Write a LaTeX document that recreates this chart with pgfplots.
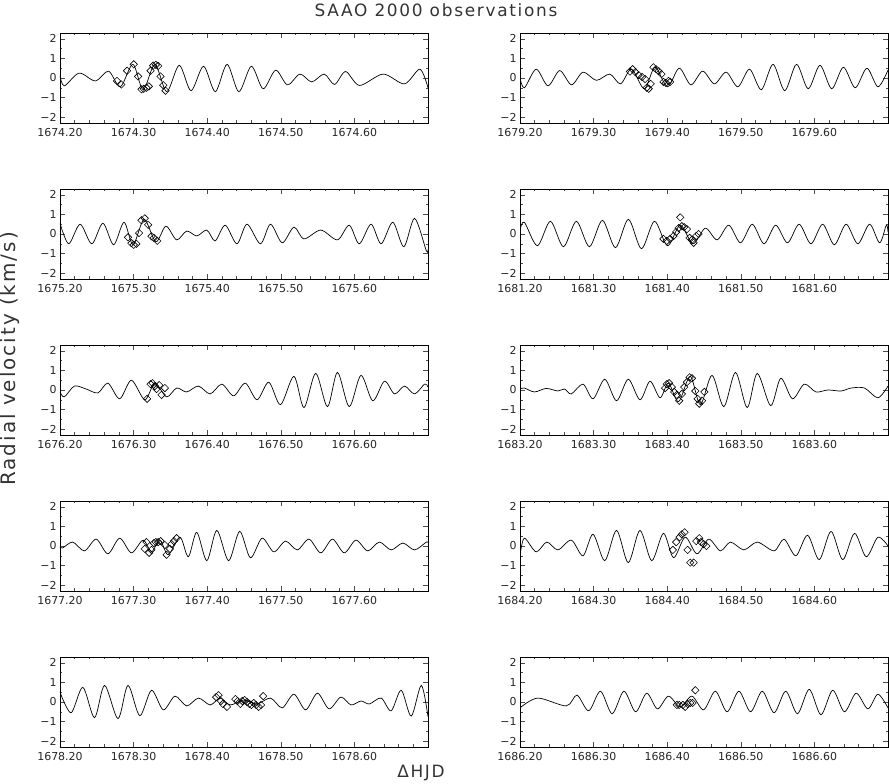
\documentclass[border=0pt]{standalone}
\usepackage{fontspec}
\setmainfont{DejaVu Sans}
\newfontfamily\labfont{DejaVu Sans}[LetterSpace=10]
\usepackage{pgfplots}
\pgfplotsset{compat=1.18}
\usepgfplotslibrary{groupplots}
\usetikzlibrary{calc}

\pgfplotsset{
  panel/.style={
    xmin=0.2, xmax=0.7, ymin=-2.3, ymax=2.3,
    xtick={0.2,0.3,0.4,0.5,0.6,0.7},
    minor x tick num=4,
    ytick={-2,-1,0,1,2},
    yticklabels={−2,−1,0,1,2},
    minor y tick num=1,
    tick align=inside,
    major tick length=5bp, minor tick length=2.5bp,
    axis line style={line width=0.7bp},
    every tick/.style={black!70, line width=0.45bp},
    tick label style={font=\fontsize{11}{13}\selectfont, text=black!85},
    xticklabel style={yshift=-2bp},
  },
  fit/.style={black, line width=0.7bp, smooth, tension=0.5, mark=none},
  obs/.style={only marks, mark=square, mark size=2.6bp,
    mark options={rotate=45, line width=0.6bp, fill=white, draw=black}},
}

\begin{document}
\begin{tikzpicture}
\begin{groupplot}[
  group style={group size=2 by 5, horizontal sep=92bp, vertical sep=66bp},
  width=368bp, height=90bp, scale only axis, panel]

% 1674
\nextgroupplot[xticklabels={1674.20,1674.30,1674.40,1674.50,1674.60,{}}]
\addplot[fit] coordinates {(0.200,0.10) (0.206,-0.40) (0.226,0.25) (0.248,-0.15) (0.266,0.35) (0.282,-0.45) (0.299,0.70) (0.313,-0.60) (0.329,0.70) (0.345,-0.70) (0.362,0.65) (0.378,-0.65) (0.395,0.60) (0.411,-0.70) (0.427,0.70) (0.443,-0.70) (0.460,0.60) (0.476,-0.55) (0.493,0.40) (0.509,-0.35) (0.526,0.20) (0.542,-0.20) (0.559,0.20) (0.573,-0.33) (0.588,0.33) (0.607,-0.38) (0.639,0.20) (0.668,-0.30) (0.689,0.45) (0.700,-0.50)};
\addplot[obs] coordinates {(0.2774,-0.15) (0.2833,-0.33) (0.2911,0.37) (0.3002,0.70) (0.3061,0.08) (0.3107,-0.58) (0.3138,-0.55) (0.3175,-0.50) (0.3207,-0.43) (0.3230,0.37) (0.3266,0.63) (0.3302,0.67) (0.3334,0.62) (0.3366,0.08) (0.3403,-0.37) (0.3434,-0.65)};

% 1679
\nextgroupplot[xticklabels={1679.20,1679.30,1679.40,1679.50,1679.60,{}}]
\addplot[fit] coordinates {(0.200,0.00) (0.206,-0.50) (0.222,0.45) (0.238,-0.40) (0.254,0.38) (0.270,-0.35) (0.2856,0.30) (0.3038,-0.12) (0.3220,0.20) (0.3366,-0.30) (0.3516,0.45) (0.3689,-0.55) (0.3835,0.55) (0.4004,-0.45) (0.4163,0.50) (0.4322,-0.35) (0.4482,0.35) (0.4641,-0.30) (0.4801,0.30) (0.4960,-0.45) (0.5119,0.45) (0.5279,-0.60) (0.5438,0.70) (0.5597,-0.65) (0.5757,0.70) (0.5916,-0.55) (0.6076,0.65) (0.6235,-0.55) (0.6394,0.55) (0.6554,-0.50) (0.6713,0.50) (0.6863,-0.45) (0.7000,0.40)};
\addplot[obs] coordinates {(0.3494,0.33) (0.3530,0.45) (0.3567,0.30) (0.3612,0.15) (0.3658,0.05) (0.3699,-0.05) (0.3721,-0.50) (0.3749,-0.55) (0.3776,-0.30) (0.3812,0.55) (0.3849,0.45) (0.3885,0.35) (0.3922,0.20) (0.3949,-0.20) (0.3981,-0.25) (0.4017,-0.15) (0.4040,-0.20)};

% 1675
\nextgroupplot[xticklabels={1675.20,1675.30,1675.40,1675.50,1675.60,{}}]
\addplot[fit] coordinates {(0.2000,0.55) (0.2118,-0.50) (0.2273,0.50) (0.2432,-0.50) (0.2583,0.55) (0.2729,-0.55) (0.2870,0.60) (0.2993,-0.55) (0.3143,0.75) (0.3302,-0.40) (0.3439,0.40) (0.3585,-0.30) (0.3721,0.15) (0.3858,-0.10) (0.3995,0.20) (0.4108,-0.35) (0.4245,0.45) (0.4404,-0.50) (0.4541,0.50) (0.4723,-0.50) (0.4860,0.50) (0.5019,-0.45) (0.5178,0.35) (0.5315,-0.25) (0.5543,0.20) (0.5770,-0.30) (0.5930,0.45) (0.6066,-0.50) (0.6226,0.50) (0.6363,-0.50) (0.6522,0.60) (0.6672,-0.65) (0.6818,0.80) (0.6977,-0.85) (0.7000,-0.80)};
\addplot[obs] coordinates {(0.2924,-0.17) (0.2970,-0.47) (0.3002,-0.55) (0.3038,-0.50) (0.3075,0.05) (0.3107,0.70) (0.3152,0.80) (0.3198,0.47) (0.3243,-0.12) (0.3275,-0.20) (0.3321,-0.35)};

% 1681
\nextgroupplot[xticklabels={1681.20,1681.30,1681.40,1681.50,1681.60,{}}]
\addplot[fit] coordinates {(0.2000,0.20) (0.2059,0.60) (0.2236,-0.60) (0.2413,0.65) (0.2590,-0.65) (0.2766,0.65) (0.2943,-0.65) (0.3120,0.70) (0.3297,-0.70) (0.3473,0.75) (0.3650,-0.75) (0.3827,0.65) (0.4004,-0.60) (0.4177,0.45) (0.4350,-0.50) (0.4518,0.30) (0.4678,-0.30) (0.4837,0.45) (0.4996,-0.45) (0.5156,0.50) (0.5315,-0.50) (0.5474,0.45) (0.5634,-0.45) (0.5793,0.50) (0.5953,-0.50) (0.6112,0.50) (0.6271,-0.55) (0.6431,0.50) (0.6590,-0.50) (0.6750,0.50) (0.6886,-0.45) (0.6977,0.45) (0.7000,0.10)};
\addplot[obs] coordinates {(0.3949,-0.25) (0.3995,-0.35) (0.4040,-0.25) (0.4086,-0.10) (0.4122,0.10) (0.4154,0.30) (0.4177,0.85) (0.4199,0.40) (0.4231,0.35) (0.4268,0.25) (0.4304,-0.20) (0.4336,-0.30) (0.4359,-0.45) (0.4395,-0.10) (0.4427,0.00)};

% 1676
\nextgroupplot[xticklabels={1676.20,1676.30,1676.40,1676.50,1676.60,{}}]
\addplot[fit] coordinates {(0.2000,-0.10) (0.2059,-0.35) (0.2196,0.20) (0.2355,0.05) (0.2515,-0.15) (0.2651,0.35) (0.2811,-0.45) (0.2970,0.50) (0.3152,-0.50) (0.3289,0.35) (0.3448,-0.35) (0.3585,0.10) (0.3721,-0.10) (0.3881,0.20) (0.4040,-0.20) (0.4199,0.30) (0.4359,-0.30) (0.4518,0.35) (0.4678,-0.50) (0.4837,0.40) (0.4996,-0.75) (0.5178,0.70) (0.5315,-0.90) (0.5474,0.85) (0.5634,-0.85) (0.5770,0.90) (0.5930,-0.85) (0.6089,0.75) (0.6249,-0.55) (0.6408,0.45) (0.6545,-0.20) (0.6681,0.20) (0.6818,-0.20) (0.6954,0.30) (0.7000,0.15)};
\addplot[obs] coordinates {(0.3184,-0.45) (0.3230,0.30) (0.3257,0.35) (0.3289,0.20) (0.3312,0.05) (0.3348,0.25) (0.3380,-0.25) (0.3425,0.10)};

% 1683
\nextgroupplot[xticklabels={1683.20,1683.30,1683.40,1683.50,1683.60,{}}]
\addplot[fit] coordinates {(0.2000,0.05) (0.2059,0.10) (0.2196,-0.10) (0.2355,0.08) (0.2515,-0.05) (0.2606,0.05) (0.2697,-0.20) (0.2856,0.30) (0.2993,-0.45) (0.3152,0.55) (0.3312,-0.55) (0.3471,0.55) (0.3630,-0.50) (0.3767,0.45) (0.3903,-0.40) (0.4017,0.35) (0.4154,-0.60) (0.4313,0.70) (0.4450,-0.75) (0.4609,0.75) (0.4769,-0.85) (0.4928,0.90) (0.5087,-0.90) (0.5224,0.85) (0.5406,-0.80) (0.5543,0.60) (0.5702,-0.45) (0.5862,0.30) (0.6021,-0.10) (0.6180,0.00) (0.6363,-0.05) (0.6499,0.10) (0.6681,0.10) (0.6863,-0.40) (0.7000,0.20)};
\addplot[obs] coordinates {(0.3972,0.10) (0.3995,0.30) (0.4026,0.35) (0.4063,0.15) (0.4095,-0.10) (0.4131,-0.25) (0.4163,-0.55) (0.4199,-0.20) (0.4231,0.15) (0.4268,0.40) (0.4304,0.65) (0.4336,0.60) (0.4382,-0.05) (0.4413,-0.45) (0.4436,-0.70) (0.4473,-0.55) (0.4505,-0.10)};

% 1677
\nextgroupplot[xticklabels={1677.20,1677.30,1677.40,1677.50,1677.60,{}}]
\addplot[fit] coordinates {(0.2000,-0.05) (0.2036,-0.10) (0.2173,0.20) (0.2332,-0.25) (0.2492,0.35) (0.2651,-0.40) (0.2811,0.40) (0.2970,-0.35) (0.3129,0.30) (0.3243,-0.30) (0.3357,0.30) (0.3471,-0.45) (0.3630,0.45) (0.3744,-0.55) (0.3858,0.70) (0.3995,-0.75) (0.4131,0.80) (0.4291,-0.75) (0.4441,0.75) (0.4587,-0.60) (0.4746,0.40) (0.4905,-0.30) (0.5064,0.25) (0.5224,-0.20) (0.5383,0.35) (0.5543,-0.35) (0.5702,0.35) (0.5862,-0.35) (0.6021,0.30) (0.6180,-0.25) (0.6340,0.20) (0.6499,-0.20) (0.6658,0.15) (0.6818,-0.20) (0.6977,0.20) (0.7000,0.18)};
\addplot[obs] coordinates {(0.3152,-0.15) (0.3175,0.20) (0.3211,-0.35) (0.3243,-0.20) (0.3275,0.15) (0.3302,0.20) (0.3334,0.20) (0.3366,0.25) (0.3425,0.05) (0.3448,-0.45) (0.3494,-0.15) (0.3516,0.10) (0.3548,0.25) (0.3585,0.40)};

% 1684
\nextgroupplot[xticklabels={1684.20,1684.30,1684.40,1684.50,1684.60,{}}]
\addplot[fit] coordinates {(0.2000,-0.50) (0.2059,0.40) (0.2219,-0.30) (0.2364,0.20) (0.2515,-0.20) (0.2697,0.30) (0.2856,-0.50) (0.2993,0.60) (0.3152,-0.75) (0.3312,0.80) (0.3471,-0.85) (0.3630,0.80) (0.3790,-0.75) (0.3949,0.65) (0.4086,-0.60) (0.4245,0.45) (0.4404,-0.40) (0.4564,0.35) (0.4723,-0.25) (0.4860,0.20) (0.5042,-0.20) (0.5224,0.20) (0.5452,-0.25) (0.5588,0.35) (0.5748,-0.50) (0.5907,0.55) (0.6066,-0.70) (0.6226,0.75) (0.6385,-0.70) (0.6545,0.65) (0.6704,-0.55) (0.6863,0.45) (0.7000,0.00)};
\addplot[obs] coordinates {(0.4077,-0.20) (0.4122,0.20) (0.4168,0.45) (0.4199,0.60) (0.4236,0.70) (0.4277,-0.20) (0.4313,-0.85) (0.4359,-0.85) (0.4395,0.25) (0.4436,0.40) (0.4459,0.20) (0.4495,0.10) (0.4532,0.00)};

% 1678
\nextgroupplot[xticklabels={1678.20,1678.30,1678.40,1678.50,1678.60,{}}]
\addplot[fit] coordinates {(0.2000,0.50) (0.2150,-0.55) (0.2310,0.75) (0.2469,-0.80) (0.2606,0.85) (0.2788,-0.85) (0.2924,0.85) (0.3084,-0.70) (0.3243,0.60) (0.3403,-0.40) (0.3562,0.30) (0.3721,-0.20) (0.3881,0.20) (0.4040,-0.15) (0.4177,0.20) (0.4313,-0.15) (0.4495,0.10) (0.4678,-0.10) (0.4860,0.20) (0.5019,-0.30) (0.5178,0.40) (0.5338,-0.40) (0.5497,0.45) (0.5656,-0.35) (0.5816,0.25) (0.5953,-0.15) (0.6089,0.05) (0.6203,-0.10) (0.6363,0.20) (0.6499,-0.45) (0.6636,0.60) (0.6772,-0.72) (0.6909,0.85) (0.7000,-0.75)};
\addplot[obs] coordinates {(0.4122,0.25) (0.4154,0.35) (0.4186,0.05) (0.4213,-0.10) (0.4268,-0.25) (0.4382,0.15) (0.4413,0.05) (0.4450,-0.10) (0.4477,0.05) (0.4509,0.10) (0.4541,0.00) (0.4573,-0.10) (0.4600,-0.15) (0.4632,-0.05) (0.4664,-0.15) (0.4700,-0.25) (0.4732,-0.15) (0.4760,0.30)};

% 1686
\nextgroupplot[xticklabels={1686.20,1686.30,1686.40,1686.50,1686.60,{}}]
\addplot[fit] coordinates {(0.2000,-0.30) (0.2241,0.20) (0.2628,-0.20) (0.2774,0.35) (0.2934,-0.45) (0.3093,0.55) (0.3252,-0.60) (0.3412,0.55) (0.3571,-0.50) (0.3721,0.45) (0.3867,-0.35) (0.4017,0.30) (0.4177,-0.25) (0.4336,0.30) (0.4495,-0.40) (0.4655,0.55) (0.4814,-0.50) (0.4974,0.55) (0.5133,-0.50) (0.5292,0.55) (0.5452,-0.55) (0.5611,0.55) (0.5770,-0.60) (0.5930,0.65) (0.6089,-0.65) (0.6249,0.60) (0.6408,-0.50) (0.6567,0.45) (0.6727,-0.35) (0.6863,0.40) (0.7000,-0.30)};
\addplot[obs] coordinates {(0.4131,-0.15) (0.4163,-0.15) (0.4213,-0.15) (0.4245,-0.25) (0.4277,-0.10) (0.4313,-0.05) (0.4345,-0.05) (0.4382,0.60)};
\end{groupplot}

\coordinate (O) at (group c1r1.north west);
\node[font=\labfont\fontsize{17}{20}\selectfont, text=black!80] at ($(O)+(376bp,23bp)$) {SAAO 2000 observations};
\node[font=\labfont\fontsize{20}{23}\selectfont, text=black!80, rotate=90] at ($(O)+(-50bp,-326bp)$) {Radial velocity (km/s)};
\node[font=\labfont\fontsize{17}{20}\selectfont, text=black!80] at ($(O)+(361bp,-740bp)$) {ΔHJD};

\pgfresetboundingbox
\path[use as bounding box] ($(O)+(-60bp,33bp)$) rectangle ($(O)+(829bp,-751bp)$);
\end{tikzpicture}
\end{document}
